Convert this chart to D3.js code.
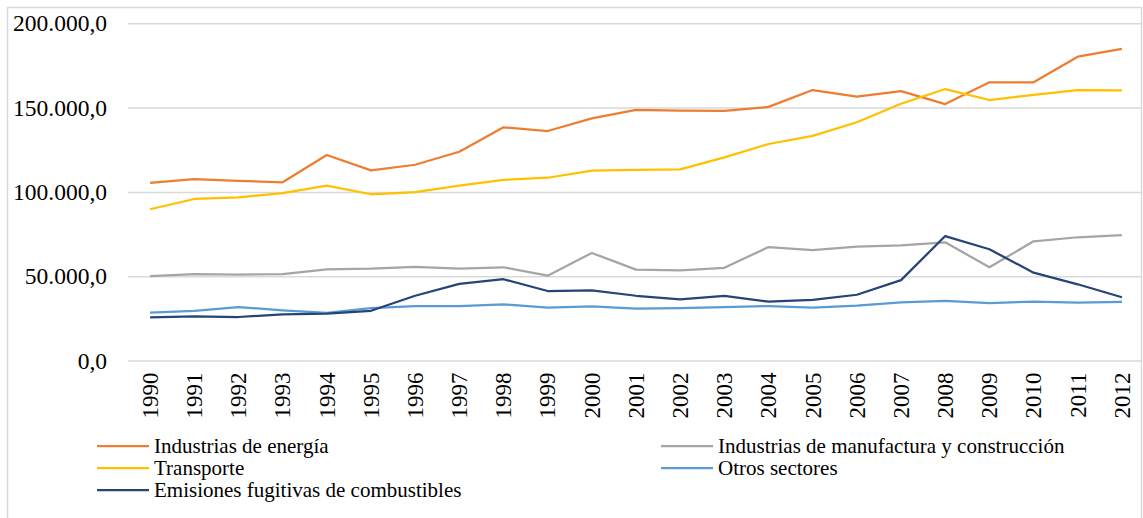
<!DOCTYPE html>
<html>
<head>
<meta charset="utf-8">
<script src="https://cdn.jsdelivr.net/npm/d3@7"></script>
<style>
    body { margin: 0; background: #fff; }
    #svg-container { width: 1143px; height: 518px; }
</style>
</head>
<body>
<div id="svg-container"></div>
<script>
// datos (Gg CO2 eq)
const years = ['1990', '1991', '1992', '1993', '1994', '1995', '1996', '1997', '1998', '1999', '2000', '2001',
    '2002', '2003', '2004', '2005', '2006', '2007', '2008', '2009', '2010', '2011', '2012']
const energia = [105.4, 107.6, 106.6, 105.7, 121.9, 112.8, 116.1, 123.8, 138.3, 136.1, 143.6, 148.6,
    148.2, 148.0, 150.4, 160.4, 156.5, 159.8, 152.1, 165.0, 165.0, 180.2, 184.8]
const manufactura = [50.1, 51.3, 50.9, 51.3, 54.1, 54.5, 55.6, 54.5, 55.3, 50.3, 63.8, 53.9,
    53.5, 55.0, 67.3, 65.5, 67.5, 68.3, 70.1, 55.3, 70.7, 73.1, 74.3]
const transporte = [89.7, 95.8, 96.8, 99.3, 103.7, 98.6, 99.8, 103.7, 107.1, 108.4, 112.6, 113.0,
    113.4, 120.5, 128.4, 133.2, 141.3, 152.3, 161.0, 154.5, 157.5, 160.4, 160.2]
const otros = [28.4, 29.5, 31.7, 29.8, 28.2, 31.0, 32.3, 32.3, 33.3, 31.3, 32.1, 30.7,
    31.1, 31.7, 32.3, 31.3, 32.5, 34.5, 35.3, 34.1, 34.9, 34.3, 34.7]
const fugitivas = [25.6, 26.2, 25.8, 27.4, 27.8, 29.5, 38.4, 45.4, 48.2, 41.2, 41.6, 38.4,
    36.3, 38.3, 34.9, 35.9, 39.0, 47.7, 73.8, 66.0, 52.1, 45.2, 37.5]
const yTicks = [0, 50000, 100000, 150000, 200000]

const series = [
    { name: 'Industrias de energía', values: energia, color: '#ED7D31' },
    { name: 'Industrias de manufactura y construcción', values: manufactura, color: '#A5A5A5' },
    { name: 'Transporte', values: transporte, color: '#FFC000' },
    { name: 'Otros sectores', values: otros, color: '#5B9BD5' },
    { name: 'Emisiones fugitivas de combustibles', values: fugitivas, color: '#264478' }
]

const serif = '"Liberation Serif", "Times New Roman", serif'
const width = 1143
const height = 518

const svg = d3.select('#svg-container')
    .append('svg').attr('width', width).attr('height', height)
    .style('font-family', serif)

//rand om de grafiek
svg.append('rect')
    .attr('x', 7.5).attr('y', 7.5)
    .attr('width', 1134).attr('height', 530)
    .attr('fill', 'none')
    .attr('stroke', '#d9d9d9')
    .attr('stroke-width', 1.5)

const plot = { left: 128, right: 1144, top: 23.3, bottom: 360.5 }

const xScale = d3.scaleBand()
    .domain(years)
    .range([plot.left, plot.right])
const yScale = d3.scaleLinear()
    .domain([0, 200000])
    .range([plot.bottom, plot.top])

const locale = d3.formatLocale({ decimal: ',', thousands: '.', grouping: [3], currency: ['', ''] })
const yFormat = locale.format(',.1f')

const yAxis = d3.axisLeft(yScale)
    .tickValues(yTicks)
    .tickFormat(yFormat)
    .tickSize(-(1141 - plot.left))
    .tickPadding(21)

const yAxisG = svg.append('g')
    .attr('transform', `translate(${plot.left}, 0)`)
    .call(yAxis)
yAxisG.select('.domain').remove()
yAxisG.selectAll('.tick line')
    .attr('stroke', '#d9d9d9')
    .attr('stroke-width', 1.5)
yAxisG.selectAll('.tick text')
    .style('font-family', serif)
    .style('font-size', '23.5px')
    .attr('fill', '#000')
    .attr('dy', '0.32em')

const xAxis = d3.axisBottom(xScale).tickSize(0)
const xAxisG = svg.append('g')
    .attr('transform', `translate(0, ${plot.bottom})`)
    .call(xAxis)
xAxisG.select('.domain').remove()
xAxisG.selectAll('.tick text')
    .style('font-family', serif)
    .style('font-size', '23px')
    .attr('fill', '#000')
    .attr('text-anchor', 'end')
    .attr('transform', 'rotate(-90)')
    .attr('x', -12)
    .attr('y', 0)
    .attr('dy', '0.34em')

//lijnen
const line = d3.line()
    .x((d, i) => xScale(years[i]) + xScale.bandwidth() / 2)
    .y(d => yScale(d * 1000))

svg.selectAll('.serie')
    .data(series)
    .enter().append('path')
    .attr('class', 'serie')
    .attr('d', d => line(d.values))
    .attr('fill', 'none')
    .attr('stroke', d => d.color)
    .attr('stroke-width', 2.25)
    .attr('stroke-linejoin', 'round')

//legenda
const legendPos = [
    { x: 97, y: 446 }, { x: 661, y: 446 },
    { x: 97, y: 468 }, { x: 661, y: 468 },
    { x: 97, y: 490 }
]
const legend = svg.selectAll('.legend')
    .data(series)
    .enter().append('g')
    .attr('class', 'legend')
    .attr('transform', (d, i) => `translate(${legendPos[i].x}, ${legendPos[i].y})`)
legend.append('line')
    .attr('x1', 0).attr('x2', 52)
    .attr('stroke', d => d.color)
    .attr('stroke-width', 2.25)
legend.append('text')
    .attr('x', 57)
    .attr('dy', '0.33em')
    .style('font-family', serif)
    .style('font-size', '21px')
    .attr('fill', '#000')
    .text(d => d.name)
</script>
</body>
</html>
